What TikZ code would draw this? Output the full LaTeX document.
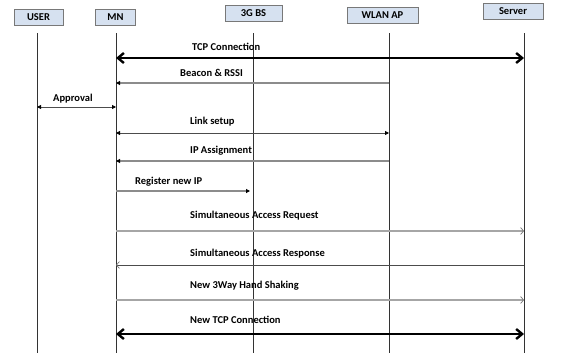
\documentclass[tikz,border=0pt]{standalone}
\usepackage{fontspec}
\setmainfont{Carlito}
\usepackage{tikz}
\usetikzlibrary{arrows.meta}
\definecolor{boxfill}{RGB}{214,225,240}
\definecolor{boxline}{RGB}{120,120,120}

\begin{document}
\begin{tikzpicture}[x=1pt,y=-1pt,font=\fontsize{10.5}{12}\selectfont\bfseries,
  head/.style={draw=boxline,fill=boxfill,minimum height=16pt,inner sep=0pt,line width=.8pt},
  life/.style={draw=black!80,line width=1pt},
  lbl/.style={anchor=west,inner sep=0pt},
  chev/.tip={Straight Barb[length=6pt,width=10pt]},
  big/.style={line width=2.4pt,{chev}-{chev}},
  dark/.style={draw=black!70,line width=.8pt},
  grey/.style={draw=black!45,line width=1.4pt},
  pale/.style={draw=black!35,line width=1.8pt},
  tri/.tip={Triangle[length=4pt,width=4pt,black]},
  vee/.tip={Straight Barb[length=3pt,width=7pt,black!55,line width=.7pt]}]
\useasboundingbox (0,0) rectangle (567,356);
		\node[head,minimum width=49pt] (user) at (38.5,17) {USER};
		\node[head,minimum width=40pt] (mn)   at (115.5,17) {MN};
		\node[head,minimum width=57pt] (bs)   at (253.5,13.5) {3G BS};
		\node[head,minimum width=71pt] (ap)   at (382.5,15) {WLAN AP};
		\node[head,minimum width=60pt] (sv)   at (513,11.5) {Server};
		% lifelines
		\coordinate (u0) at (37,33);  \coordinate (u1) at (37,353);
		\coordinate (m0) at (116,33); \coordinate (m1) at (116,353);
		\coordinate (b0) at (253,33); \coordinate (b1) at (253,353);
		\coordinate (a0) at (389,33); \coordinate (a1) at (389,353);
		\coordinate (s0) at (524,33); \coordinate (s1) at (524,353);
		\draw[life] (u0) -- (u1);
		\draw[life] (m0) -- (m1);
		\draw[life] (b0) -- (b1);
		\draw[life] (a0) -- (a1);
		\draw[life] (s0) -- (s1);
		% message levels
		\coordinate (y1) at (0,58);
		\coordinate (y2) at (0,83);
		\coordinate (y3) at (0,107);
		\coordinate (y4) at (0,133);
		\coordinate (y5) at (0,161);
		\coordinate (y6) at (0,191);
		\coordinate (y7) at (0,231);
		\coordinate (y8) at (0,265);
		\coordinate (y9) at (0,300);
		\coordinate (y10) at (0,334);
		\node[lbl] (t1) at (192,47) {TCP Connection};
		\node[lbl] (t2) at (180,73) {Beacon \& RSSI};
		\node[lbl] (t3) at (53,99) {Approval};
		\node[lbl] (t4) at (190,122) {Link setup};
		\node[lbl] (t5) at (190,151) {IP Assignment};
		\node[lbl] (t6) at (135,182) {Register new IP};
		\node[lbl] (t7) at (190,216) {Simultaneous Access Request};
		\node[lbl] (t8) at (190,254) {Simultaneous Access Response};
		\node[lbl] (t9) at (190,286) {New 3Way Hand Shaking};
		\node[lbl] (t10) at (190,320) {New TCP Connection};
		\draw[big] (m0 |- y1) -- (s0 |- y1);
		\draw[grey,{tri}-] (m0 |- y2) -- (a0 |- y2);
		\draw[dark,{tri}-{tri}] (u0 |- y3) -- (m0 |- y3);
		\draw[dark,{tri}-{tri}] (m0 |- y4) -- (a0 |- y4);
		\draw[grey,{tri}-] (m0 |- y5) -- (a0 |- y5);
		\draw[grey,-{tri},shorten >=3pt] (m0 |- y6) -- (b0 |- y6);
		\draw[pale,-{vee}] (m0 |- y7) -- (s0 |- y7);
		\draw[dark,{vee}-] (m0 |- y8) -- (s0 |- y8);
		\draw[pale,-{vee}] (m0 |- y9) -- (s0 |- y9);
		\draw[big] (m0 |- y10) -- (s0 |- y10);
	\end{tikzpicture}
\end{document}
